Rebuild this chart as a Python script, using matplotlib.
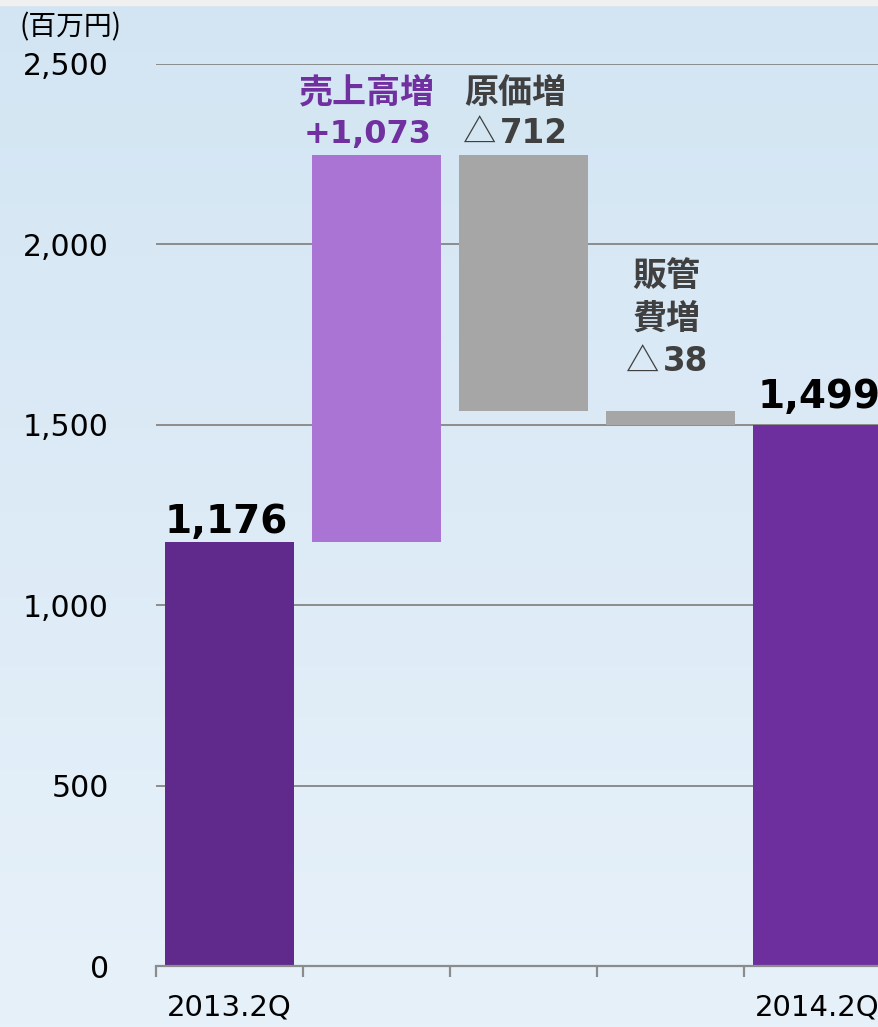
import matplotlib
matplotlib.use('Agg')
import matplotlib.pyplot as plt
import numpy as np

plt.rcParams['font.family'] = ['DejaVu Sans', 'Noto Sans CJK JP']

# data
categories = ['2013.2Q', '売上高増', '原価増', '販管費増', '2014.2Q']
start_value = 1176
changes = [1073, -712, -38]
end_value = 1499
tick_labels = ['2013.2Q', '', '', '', '2014.2Q']

# waterfall geometry from the data
levels = np.cumsum([start_value] + changes)
bottoms = [0]
heights = [start_value]
for i, c in enumerate(changes):
    lo = min(levels[i], levels[i + 1])
    bottoms.append(lo)
    heights.append(abs(c))
bottoms.append(0)
heights.append(end_value)
tops = [b + h for b, h in zip(bottoms, heights)]

colors = ['#5f2a8c', '#aa74d4', '#a6a6a6', '#a6a6a6', '#6e2f9e']

W, H = 879, 1027
fig = plt.figure(figsize=(W / 100, H / 100), dpi=100)

# background gradient
bg = fig.add_axes([0, 0, 1, 1], zorder=-10)
top_c = np.array([211, 229, 243]) / 255.
bot_c = np.array([231, 241, 250]) / 255.
t = np.linspace(0, 1, 256)[:, None]
grad = top_c[None, :] * (1 - t) + bot_c[None, :] * t
bg.imshow(grad[:, None, :], aspect='auto', extent=[0, 1, 0, 1])
bg.axhspan(1 - 5 / H, 1, color='#f0f0f0')
bg.set_xlim(0, 1)
bg.set_ylim(0, 1)
bg.axis('off')

ax = fig.add_axes([156 / W, 61 / H, 735 / W, 902 / H])
ax.patch.set_alpha(0)
x = np.arange(len(categories))
ax.bar(x, heights, bottom=bottoms, width=0.88, color=colors, zorder=3)

ax.set_xlim(-0.5, 4.5)
ax.set_ylim(0, 2500)
ax.set_yticks([0, 500, 1000, 1500, 2000, 2500])
ax.set_yticklabels(['{:,}'.format(v) for v in [0, 500, 1000, 1500, 2000, 2500]])
ax.yaxis.grid(True, color='#8c8c8c', lw=1.4, zorder=1)
ax.tick_params(axis='y', length=0, pad=34, labelsize=21.5, labelcolor='black')

ax.set_xticks(np.arange(-0.5, 5, 1))
ax.set_xticklabels([])
ax.tick_params(axis='x', which='major', length=8, width=1.6, color='#8c8c8c',
               direction='out')
ax.set_xticks(x, minor=True)
ax.set_xticklabels(tick_labels, minor=True)
ax.tick_params(axis='x', which='minor', length=0, pad=20, labelsize=21)

for s in ['left', 'right', 'top']:
    ax.spines[s].set_visible(False)
ax.spines['bottom'].set_color('#8c8c8c')
ax.spines['bottom'].set_linewidth(1.6)
ax.spines['bottom'].set_zorder(4)


def label(i, yv, text, dx, dy, size, color, weight='bold', ha='center',
          family=None):
    ax.annotate(text, xy=(i, yv), xytext=(dx, dy), textcoords='offset pixels',
                ha=ha, va='baseline', fontsize=size, color=color,
                fontweight=weight, annotation_clip=False, family=family)


purple = '#7030a0'
dark = '#404040'
cjk = ['Noto Sans CJK JP', 'DejaVu Sans']

label(0, tops[0], '{:,}'.format(start_value), -3, 9, 28, 'black')
label(4, tops[4], '{:,}'.format(end_value), 2, 17, 28, 'black')

label(1, tops[1], '売上高増', -10, 52, 24.5, purple)
label(1, tops[1], '+{:,}'.format(changes[0]), -9, 12, 23, purple)

label(2, tops[2], '原価増', -8, 52, 24.5, dark)
label(2, tops[2], '△', -27, 11, 24, dark, weight='normal', ha='right',
      family=cjk)
label(2, tops[2], str(-changes[1]), -24, 12, 23.5, dark, ha='left')

label(3, tops[3], '販管', -4, 125, 24.5, dark)
label(3, tops[3], '費増', -4, 83, 24.5, dark)
label(3, tops[3], '△', -11, 39, 24, dark, weight='normal', ha='right',
      family=cjk)
label(3, tops[3], str(-changes[2]), -8, 40, 23.5, dark, ha='left')

fig.text(19 / W, 1 - 27 / H, '(百万円)', fontsize=20, va='center', ha='left',
         family=cjk)

fig.savefig('out.png', dpi=100)
